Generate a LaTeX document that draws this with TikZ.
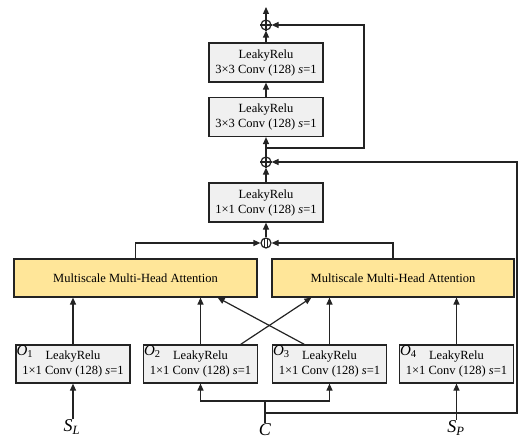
\documentclass[tikz,border=0pt]{standalone}
\usepackage{fontspec}
\setmainfont{Liberation Serif}
\usetikzlibrary{arrows.meta,calc}
\definecolor{attyellow}{RGB}{255,230,153}
\definecolor{boxgray}{RGB}{240,240,240}
\definecolor{linegray}{RGB}{35,35,35}
\begin{document}
\begin{tikzpicture}[x=1pt,y=-1pt,
  line/.style={line width=1.2pt, draw=linegray},
  arr/.style={line, -{Triangle[length=7pt,width=6pt]}},
  convbox/.style={draw=linegray, line width=1.2pt, fill=boxgray, minimum width=114pt, minimum height=39pt, inner sep=0pt, align=center, font=\fontsize{12.5}{15}\selectfont},
  attbox/.style={draw=linegray, line width=1.2pt, fill=attyellow, minimum width=243pt, minimum height=38pt, inner sep=0pt, font=\fontsize{12.5}{15}\selectfont},
  opnode/.style={circle, draw=linegray, line width=1.2pt, minimum size=10pt, inner sep=0pt},
  olabel/.style={anchor=north west, inner sep=1pt, font=\fontsize{15}{15}\selectfont},
  inlabel/.style={inner sep=1pt, font=\fontsize{18}{18}\selectfont}
]
\useasboundingbox (0,0) rectangle (522,441);

% upper column
\node[convbox] (t2) at (266,62.5) {LeakyRelu\\3×3 Conv (128) \textit{s}=1};
\node[convbox] (t1) at (266,117) {LeakyRelu\\3×3 Conv (128) \textit{s}=1};
\node[convbox] (c1) at (266,202.5) {LeakyRelu\\1×1 Conv (128) \textit{s}=1};
\node[opnode] (pt) at (266,25) {};
\node[opnode] (pm) at (266,162) {};
\node[opnode] (cat) at (266,243) {};
\draw[line] (pt.north) -- (pt.south) (pt.west) -- (pt.east);
\draw[line] (pm.north) -- (pm.south) (pm.west) -- (pm.east);
\draw[line] ($(cat)+(-1.7,-4.6)$) -- ($(cat)+(-1.7,4.6)$);
\draw[line] ($(cat)+(1.7,-4.6)$) -- ($(cat)+(1.7,4.6)$);

% attention blocks
\node[attbox] (attL) at (135.5,278) {Multiscale Multi-Head Attention};
\node[attbox, minimum width=242pt] (attR) at (393,278) {Multiscale Multi-Head Attention};

% bottom conv blocks
\node[convbox, minimum height=38pt] (o1) at (73,364) {LeakyRelu\\1×1 Conv (128) \textit{s}=1};
\node[convbox, minimum height=38pt] (o2) at (200.5,364) {LeakyRelu\\1×1 Conv (128) \textit{s}=1};
\node[convbox, minimum height=38pt] (o3) at (329.5,364) {LeakyRelu\\1×1 Conv (128) \textit{s}=1};
\node[convbox, minimum height=38pt] (o4) at (456.5,364) {LeakyRelu\\1×1 Conv (128) \textit{s}=1};
\node[olabel] (o1l) at (o1.north west) {\textit{O}\textsubscript{1}};
\node[olabel] (o2l) at (o2.north west) {\textit{O}\textsubscript{2}};
\node[olabel] (o3l) at (o3.north west) {\textit{O}\textsubscript{3}};
\node[olabel] (o4l) at (o4.north west) {\textit{O}\textsubscript{4}};

% inputs
\node[inlabel] (sl) at (72,427) {\textit{S}\textsubscript{\textit{L}}};
\node[inlabel] (C) at (265,430) {\textit{C}};
\node[inlabel] (sp) at (456,428) {\textit{S}\textsubscript{\textit{P}}};
\coordinate (out) at (266,7);
\coordinate (sk) at (266,148);
\coordinate (skr) at (364,148);
\coordinate (cj) at (265,401);
\coordinate (cs) at (265,413);
\coordinate (rb) at (517,413);

% connectors upper
\draw[arr] (pt.north) -- (out);
\draw[arr] (t2.north) -- (pt.south);
\draw[arr] (t1.north) -- (t2.south);
\draw[arr] (pm.north) -- (t1.south);
\draw[arr] (c1.north) -- (pm.south);
\draw[arr] (cat.north) -- (c1.south);
\draw[arr] (sk) -- (skr) |- (pt.east);
\draw[arr] (attL.north) |- (cat.west);
\draw[arr] (attR.north) |- (cat.east);

% connectors lower
\draw[arr] (o1.north) -- (o1.north |- attL.south);
\draw[arr] (o2.north) -- (o2.north |- attL.south);
\draw[arr] (o3.north) -- (o3.north |- attR.south);
\draw[arr] (o4.north) -- (o4.north |- attR.south);
\draw[arr] ($(o2.north east)+(-17.5,0)$) -- ($(attR.south west)+(40,0)$);
\draw[arr] ($(o3.north west)+(32.5,0)$) -- ($(attL.south east)+(-40,0)$);

% inputs connectors
\draw[arr] (sl.north -| o1.south) -- (o1.south);
\draw[arr] (sp.north -| o4.south) -- (o4.south);
\draw[line] (C.north) -- (cj);
\draw[arr] (cj) -| (o2.south);
\draw[arr] (cj) -| (o3.south);
\draw[arr] (cs) -- (rb) |- (pm.east);
\end{tikzpicture}
\end{document}
